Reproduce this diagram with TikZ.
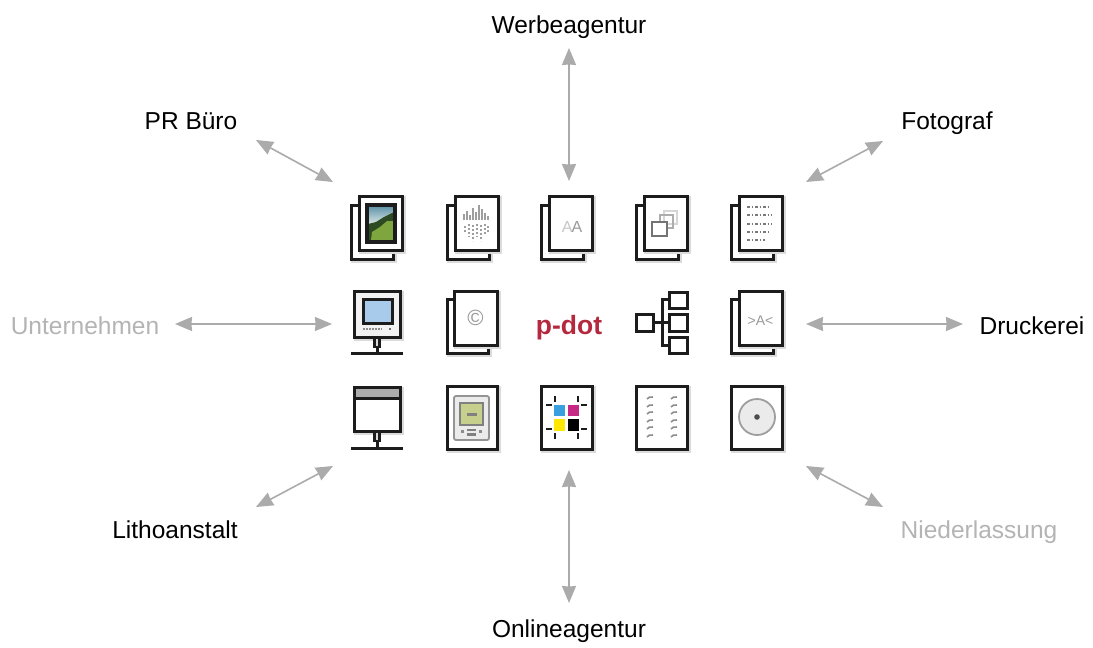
\documentclass[tikz,border=0pt]{standalone}
\usepackage{fontspec}
\setmainfont{Liberation Sans}
\usetikzlibrary{arrows.meta}
\definecolor{inkc}{HTML}{1C1C1C}
\definecolor{softgray}{HTML}{B4B4B4}
\definecolor{arrowgray}{HTML}{ABABAB}
\definecolor{pdotred}{HTML}{B5293F}
\definecolor{screenblue}{HTML}{A9CBEB}
\definecolor{glyphgray}{HTML}{9A9A9A}
\definecolor{skytop}{HTML}{5E93A8}
\definecolor{skylow}{HTML}{E6EFEA}
\definecolor{hilldark}{HTML}{2E4A22}
\definecolor{hillgreen}{HTML}{7FA63E}
\definecolor{lcdgreen}{HTML}{C6CF8C}
\tikzset{
  iconbox/.style={draw=inkc,line width=3pt,fill=white,inner sep=0pt,outer sep=0pt},
  shadowbox/.style={draw=black!14,line width=3.4pt},
  lbl/.style={font=\fontsize{24.5}{24.5}\selectfont,text=black,anchor=base,inner sep=0pt},
  lblgray/.style={lbl,text=softgray},
  link/.style={draw=arrowgray,fill=arrowgray,line width=1.6pt,
    {Stealth[length=17pt,width=14pt,inset=0.6pt]}-{Stealth[length=17pt,width=14pt,inset=0.6pt]}},
  iconline/.style={draw=inkc,line width=3pt},
  glyph/.style={text=glyphgray,inner sep=0pt},
  tick/.style={draw=black!38,line width=1.7pt},
  mark tick/.style={draw=inkc,line width=2.4pt}
}
% name x0 y0 x1 y1
\newcommand{\kbox}[5]{%
  \draw[shadowbox] ({#2+1.8},{#3+1.8}) rectangle ({#4+1.8},{#5+1.8});
  \node[iconbox,minimum width={(#4)-(#2)},minimum height={(#5)-(#3)}] (#1) at ({((#2)+(#4))/2},{((#3)+(#5))/2}) {};
}
% name, back-left x, front top y
\newcommand{\kstack}[3]{%
  \kbox{#1b}{#2}{#3+9}{#2+42}{#3+63}
  \kbox{#1}{#2+8}{#3}{#2+51}{#3+54}
}
\begin{document}
\begin{tikzpicture}[x=1pt,y=-1pt]
\useasboundingbox (0,0) rectangle (1093,648);
\fill[white] (0,0) rectangle (1093,648);

% labels
\node[lbl] (werbe) at (569,33) {Werbeagentur};
\node[lbl] (pr) at (191,129) {PR Büro};
\node[lbl] (foto) at (947,129) {Fotograf};
\node[lblgray] (unter) at (85,334) {Unternehmen};
\node[lbl] (druck) at (1032,334) {Druckerei};
\node[lbl] (litho) at (175,538) {Lithoanstalt};
\node[lblgray] (nieder) at (979,538) {Niederlassung};
\node[lbl] (online) at (569,637) {Onlineagentur};

% arrow ends
\coordinate (a1) at (569,48);  \coordinate (a2) at (569,181);
\coordinate (b1) at (256,140); \coordinate (b2) at (333,182);
\coordinate (c1) at (883,141); \coordinate (c2) at (806,182);
\coordinate (d1) at (175,324); \coordinate (d2) at (332,324);
\coordinate (e1) at (963,324); \coordinate (e2) at (806,324);
\coordinate (f1) at (256,507); \coordinate (f2) at (333,466);
\coordinate (g1) at (883,507); \coordinate (g2) at (806,466);
\coordinate (h1) at (569,603); \coordinate (h2) at (569,470);
\foreach \p/\q in {a1/a2,b1/b2,c1/c2,d1/d2,e1/e2,f1/f2,g1/g2,h1/h2}
  \draw[link] (\p) -- (\q);

% row 1
\kstack{i1}{351}{196}
\kstack{i2}{447}{196}
\kstack{i3}{541}{196}
\kstack{i4}{636}{196}
\kstack{i5}{731}{196}

% photo
\fill[top color=skytop,bottom color=skylow] (368,206) rectangle (394,226);
\fill[hilldark] (368,241) -- (368,224) -- (376,222) -- (384,217) -- (394,212) -- (394,241) -- cycle;
\fill[hillgreen] (371,240) -- (372,232) -- (380,227) -- (387,221) -- (393,221) -- (393,240) -- cycle;
\draw[draw=inkc,line width=3.2pt] (367,205) rectangle (395,242);

% halftone sheet
\foreach \x/\a/\b in {464/214/220,467/211/220,470/215/220,473/208/220,476/212/220,479/205/220,482/209/220,485/213/220,488/216/220}
  \draw[tick] (\x,\a) -- (\x,\b);
\foreach \x/\a/\b in {465/226/233,469/224/237,473/225/241,477/224/237,481/225/241,485/224/235,488/226/232}
  \draw[tick,dash pattern=on 2pt off 2pt] (\x,\a) -- (\x,\b);

% AA
\node[glyph,font=\fontsize{16}{16}\selectfont] (aa) at (572,227) {\textcolor{black!22}{A}\kern-1pt A};

% overlapping squares
\draw[draw=black!16,line width=1.6pt] (664,211) rectangle (677,224);
\draw[draw=black!32,line width=1.6pt] (660,215) rectangle (673,228);
\draw[draw=black!55,line width=1.8pt,fill=white] (652,222) rectangle (667,236);

% text sheet
\foreach \yy/\w in {207/24,215/25,224/25,232/24,240/18}{
  \draw[draw=black!52,line width=1.5pt,dash pattern=on 3pt off 1.6pt on 1.5pt off 2pt] (747,\yy) -- (747+\w,\yy);
}

% row 2
% monitor
\draw[shadowbox] (355.8,292.8) rectangle (401.8,338.8);
\node[iconbox,fill=black!5,minimum width=46,minimum height=46] (mon) at (377,314) {};
\node[draw=inkc,line width=3pt,fill=screenblue,inner sep=0pt,minimum width=29,minimum height=24] (scr) at (377.5,311) {};
\draw[draw=black!45,line width=1.1pt,dash pattern=on 2pt off 1pt] (363,329) -- (382,329);
\fill[black!55] (389,328) rectangle (391,330);
\coordinate (base1l) at (351,353); \coordinate (base1r) at (403,353);
\draw[iconline] (base1l) -- (base1r);
\node[draw=inkc,line width=2.2pt,fill=black!15,inner sep=0pt,minimum width=5,minimum height=9] (neck1) at (377,342.5) {};
\draw[iconline] (neck1.south) -- (neck1.south |- base1l);

\kbox{i7b}{447}{299}{488}{353}
\kbox{i7}{454}{291}{497}{345}
\node[glyph,font=\fontsize{22}{22}\selectfont] (copy) at (475.5,318) {©};

\node[font=\bfseries\fontsize{26.5}{26.5}\selectfont,text=pdotred,anchor=base,inner sep=0pt] (pdot) at (569,334) {p-dot};

% hierarchy
\coordinate (sp1) at (662,299.5); \coordinate (sp2) at (662,345);
\node[iconbox,minimum width=17,minimum height=17] (root) at (644.5,322.5) {};
\draw[iconline] (root.east) -- (678,322.5);
\draw[iconline] (678,299.5) -- (sp1) -- (sp2) -- (678,345);
\node[iconbox,minimum width=18,minimum height=16] (h1box) at (678,300) {};
\node[iconbox,minimum width=18,minimum height=17] (h2box) at (678,322.5) {};
\node[iconbox,minimum width=18,minimum height=16] (h3box) at (678,345) {};

\kbox{i10b}{731}{299}{773}{353}
\kbox{i10}{739}{291}{782}{345}
\node[glyph,font=\fontsize{14}{14}\selectfont] (gla) at (760.5,321) {>A<};

% row 3
% window
\draw[shadowbox] (355.8,388.8) rectangle (401.8,432.8);
\node[iconbox,minimum width=46,minimum height=44] (win) at (377,409) {};
\fill[black!32] (354,387) rectangle (400,398);
\draw[iconline] (354,398) -- (400,398);
\draw[iconline] (354,387) rectangle (400,431);
\coordinate (base2l) at (351,448); \coordinate (base2r) at (403,448);
\draw[iconline] (base2l) -- (base2r);
\node[draw=inkc,line width=2.2pt,fill=black!15,inner sep=0pt,minimum width=5,minimum height=9] (neck2) at (377,436.5) {};
\draw[iconline] (neck2.south) -- (neck2.south |- base2l);

% handheld
\kbox{i12}{447}{386}{497}{449}
\draw[draw=black!42,line width=1.8pt,fill=black!8,rounded corners=2pt] (454,396) rectangle (489,440);
\draw[draw=black!50,line width=1.3pt,fill=lcdgreen] (460,403) rectangle (483,425);
\fill[black!50] (467,413) rectangle (477,416);
\fill[black!50] (467,428.5) rectangle (476,431);
\fill[black!50] (467,433) rectangle (476,436);
\fill[black!45] (461,430) rectangle (464,433);
\fill[black!45] (479,430) rectangle (482,433);

% colour marks
\kbox{i13}{541}{386}{592}{449}
\fill[cyan!75!blue!80] (554,405) rectangle (565,416);
\fill[magenta!80!black] (568,405) rectangle (579,416);
\fill[yellow!90!orange] (554,419) rectangle (565,431);
\fill[black] (568,419) rectangle (579,431);
\foreach \x in {555,578}{
  \draw[mark tick] (\x,396) -- (\x,402);
  \draw[mark tick] (\x,433) -- (\x,439);
}
\foreach \yy in {405,429}{
  \draw[mark tick] (546,\yy) -- (552,\yy);
  \draw[mark tick] (581,\yy) -- (587,\yy);
}

% two columns text
\kbox{i14}{636}{386}{687}{449}
\foreach \x in {647,671}
  \foreach \yy in {397,405,412,420,427,435}
    \draw[draw=black!45,line width=1.6pt] (\x,\yy+2) .. controls (\x+1,\yy) and (\x+3,\yy) .. (\x+6,\yy);

% disc
\kbox{i15}{731}{386}{782}{449}
\node[circle,draw=black!38,line width=1.8pt,fill=black!8,minimum size=36,inner sep=0pt] (disc) at (757,417) {};
\fill[black!70] (disc.center) circle (2.8);
\end{tikzpicture}
\end{document}
